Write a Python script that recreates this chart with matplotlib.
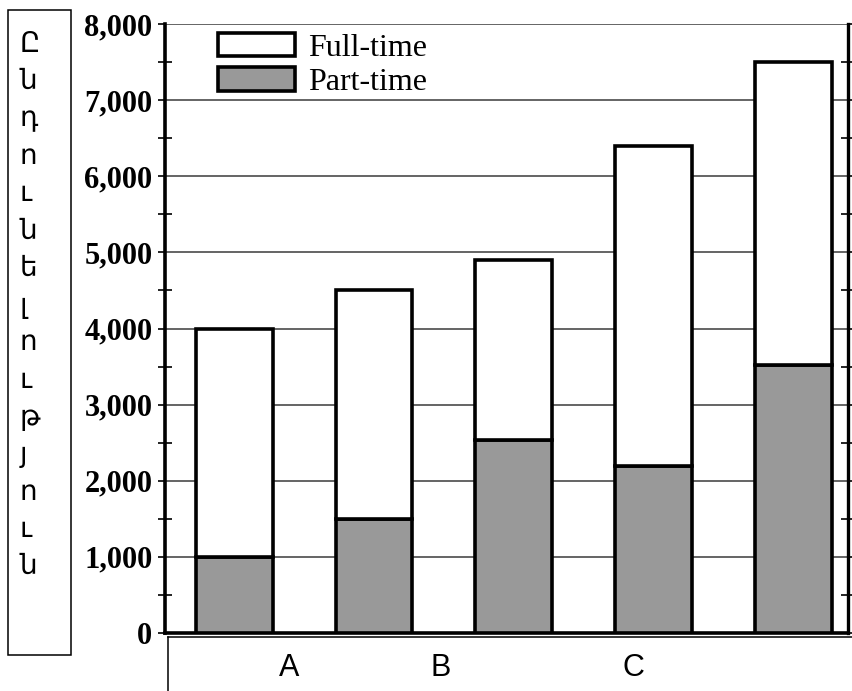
import matplotlib
matplotlib.use("Agg")
import matplotlib.pyplot as plt
from matplotlib.patches import Rectangle
from matplotlib.lines import Line2D
from matplotlib.ticker import MultipleLocator, FuncFormatter

# Enrolment by group (stacked: part-time at the bottom, full-time on top)
groups = ["1", "2", "3", "4", "5"]
part_time = [1000, 1500, 2530, 2200, 3520]
full_time = [3000, 3000, 2370, 4200, 3980]
category_labels = ["A", "B", "C"]
axis_title = "Ընդունելություն"

W, H = 852, 691
fig = plt.figure(figsize=(W / 100, H / 100), dpi=100)
fig.patch.set_facecolor("white")

ax_l, ax_r, ax_t, ax_b = 165, 848, 24, 633
ax = fig.add_axes([ax_l / W, 1 - ax_b / H, (ax_r - ax_l) / W, (ax_b - ax_t) / H])

x = list(range(len(groups)))
bar_w = 0.55
edge_lw = 2.6
ax.bar(x, part_time, width=bar_w, color="#999999", edgecolor="black",
       linewidth=edge_lw, label="Part-time", zorder=3)
ax.bar(x, full_time, width=bar_w, bottom=part_time, color="white",
       edgecolor="black", linewidth=edge_lw, label="Full-time", zorder=3)

ax.set_xlim(-0.493, 4.386)
ax.set_ylim(0, 8000)
ax.set_xticks([])

ax.yaxis.set_major_locator(MultipleLocator(1000))
ax.yaxis.set_minor_locator(MultipleLocator(500))
ax.yaxis.set_major_formatter(FuncFormatter(lambda v, p: f"{int(v):,}"))
ax.grid(axis="y", which="major", color="#3a3a3a", linewidth=1.1, zorder=0)
ax.set_axisbelow(True)

ax.tick_params(axis="y", which="major", direction="out", length=5, width=1.2,
               left=True, right=True, pad=4)
ax.tick_params(axis="y", which="minor", direction="inout", length=10, width=1.2,
               left=True, right=True)
for lbl in ax.get_yticklabels():
    lbl.set_fontfamily("Liberation Serif")
    lbl.set_fontweight("bold")
    lbl.set_fontsize(22)

ax.spines["top"].set_visible(False)
ax.spines["left"].set_linewidth(2.6)
ax.spines["right"].set_linewidth(2.4)
ax.spines["bottom"].set_linewidth(2.6)

# Legend
h_full = Rectangle((0, 0), 1, 1, facecolor="white", edgecolor="black", linewidth=2.6)
h_part = Rectangle((0, 0), 1, 1, facecolor="#999999", edgecolor="black", linewidth=2.6)
leg = ax.legend([h_full, h_part], ["Full-time", "Part-time"],
                loc="upper left", bbox_to_anchor=(0.05, 1.017),
                frameon=False, prop={"family": "Liberation Serif", "size": 23},
                handlelength=2.4, handleheight=0.75, handletextpad=0.4,
                labelspacing=0.15, borderaxespad=0.2)

# Lower box holding the category labels
fig.add_artist(Line2D([168 / W, 1.0], [1 - 637 / H, 1 - 637 / H],
                      color="black", linewidth=1.1))
fig.add_artist(Line2D([168 / W, 168 / W], [1 - 637 / H, 0.0],
                      color="black", linewidth=1.1))
label_x = [289, 441, 633]
for lab, px in zip(category_labels, label_x):
    fig.text(px / W, 1 - 668 / H, lab, ha="center", va="center",
             fontsize=22, family=["Liberation Sans", "DejaVu Sans"])

# Vertical axis title box, letters stacked one under another
fig.add_artist(Rectangle((8 / W, 1 - 655 / H), 63 / W, 645 / H,
                         transform=fig.transFigure, fill=False,
                         edgecolor="black", linewidth=1.1))
letters = list(axis_title)
top_y, step = 45, 37.3
for i, ch in enumerate(letters):
    fig.text(20 / W, 1 - (top_y + i * step) / H, ch, ha="left", va="center",
             fontsize=20, family=["Liberation Sans", "DejaVu Sans"])

fig.savefig("out.png", dpi=100)
